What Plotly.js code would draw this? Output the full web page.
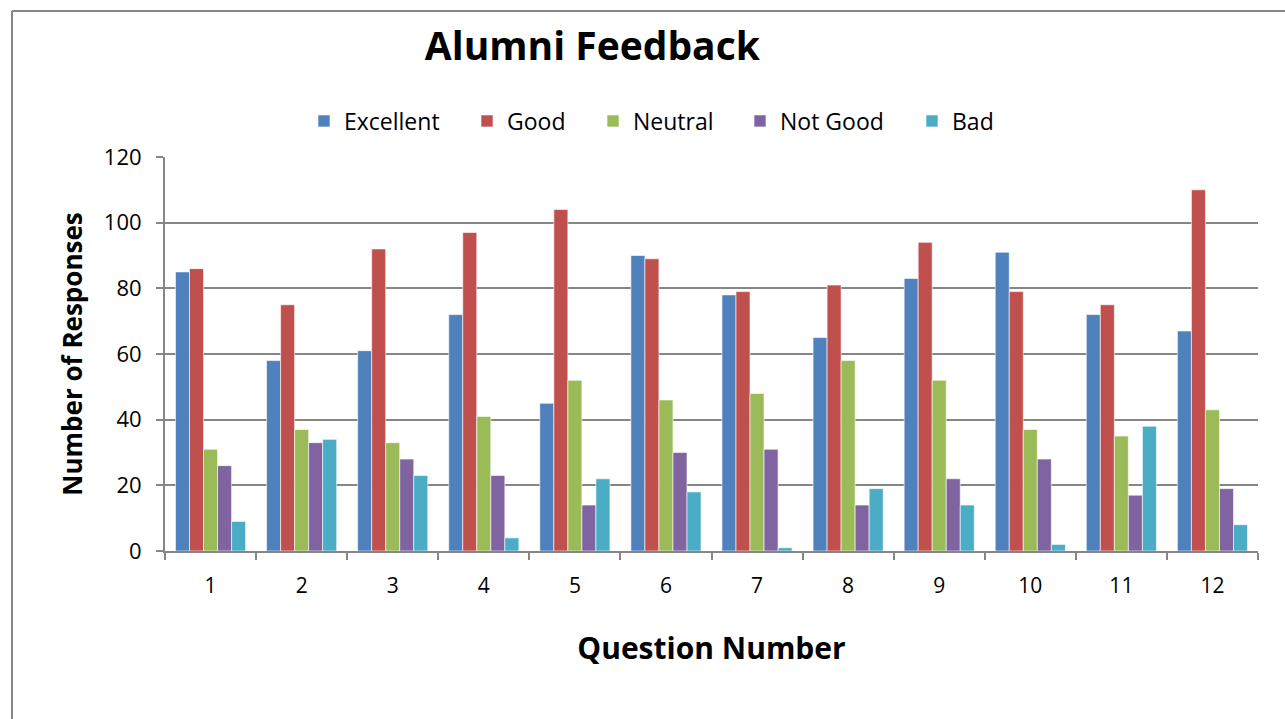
<!DOCTYPE html>
<html>
<head>
<meta charset="utf-8">
<script src="https://cdn.plot.ly/plotly-3.0.1.min.js"></script>
<style>
html,body{margin:0;padding:0;background:#fff;}
#chart{width:1285px;height:719px;}
</style>
</head>
<body>
<div id="chart"></div>
<script>
var questions = ["1","2","3","4","5","6","7","8","9","10","11","12"];
var excellent = [85, 58, 61, 72, 45, 90, 78, 65, 83, 91, 72, 67];
var good      = [86, 75, 92, 97, 104, 89, 79, 81, 94, 79, 75, 110];
var neutral   = [31, 37, 33, 41, 52, 46, 48, 58, 52, 37, 35, 43];
var notGood   = [26, 33, 28, 23, 14, 30, 31, 14, 22, 28, 17, 19];
var bad       = [9, 34, 23, 4, 22, 18, 1, 19, 14, 2, 38, 8];

var seriesNames = ["Excellent", "Good", "Neutral", "Not Good", "Bad"];
var seriesValues = [excellent, good, neutral, notGood, bad];
var colors = ["#4F81BD", "#C0504D", "#9BBB59", "#8064A2", "#4BACC6"];
var legendIds = ["legend", "legend2", "legend3", "legend4", "legend5"];
var legendTextX = [344, 507, 633, 780, 952];

var traces = seriesNames.map(function(n, i){
  return {
    type: "bar",
    name: n,
    x: questions,
    y: seriesValues[i],
    legend: legendIds[i],
    marker: {color: colors[i], line: {color: "rgba(255,255,255,0.6)", width: 1}}
  };
});

var font = "Open Sans, Liberation Sans, sans-serif";
var layout = {
  width: 1285, height: 719,
  paper_bgcolor: "#fff", plot_bgcolor: "#fff",
  margin: {l: 165, r: 27, t: 157, b: 168},
  barmode: "group",
  bargap: 0.23,
  bargroupgap: 0,
  font: {family: font, color: "#000"},
  title: {
    text: "<b>Alumni Feedback</b>",
    font: {family: font, size: 39, color: "#000"},
    xref: "container", yref: "container",
    x: 0.461, xanchor: "center",
    y: 1 - 46/719, yanchor: "middle"
  },
  showlegend: true,
  xaxis: {
    type: "category",
    showgrid: false,
    showline: true, linecolor: "#868686", linewidth: 2,
    ticks: "outside", ticklen: 7, tickcolor: "#868686", tickwidth: 2,
    tickson: "boundaries",
    ticklabelstandoff: 15,
    tickfont: {family: font, size: 21, color: "#000"},
    title: {text: "<b>Question Number</b>", font: {family: font, size: 30, color: "#000"}, standoff: 40}
  },
  yaxis: {
    range: [0, 120],
    dtick: 20,
    showgrid: true, gridcolor: "#868686", gridwidth: 2,
    showline: true, linecolor: "#868686", linewidth: 2,
    ticks: "outside", ticklen: 7, tickcolor: "#868686", tickwidth: 2,
    zeroline: false,
    ticklabelstandoff: 10,
    tickfont: {family: font, size: 22, color: "#000"},
    title: {text: "<b>Number of Responses</b>", font: {family: font, size: 26, color: "#000"}, standoff: 14}
  },
  shapes: [
    {type: "line", xref: "paper", yref: "paper", x0: -153/1093, x1: 1120/1093, y0: 1 + (157-11)/394, y1: 1 + (157-11)/394, line: {color: "#868686", width: 2}},
    {type: "line", xref: "paper", yref: "paper", x0: -153/1093, x1: -153/1093, y0: 1 + (157-11)/394, y1: -168/394 - 0.01, line: {color: "#868686", width: 2}}
  ]
};

legendIds.forEach(function(id, i){
  layout[id] = {
    orientation: "h",
    xref: "container", yref: "container",
    x: (legendTextX[i] - 40) / 1285, xanchor: "left",
    y: 1 - 121/719, yanchor: "middle",
    font: {family: font, size: 23, color: "#000"},
    bgcolor: "rgba(0,0,0,0)"
  };
});

Plotly.newPlot("chart", traces, layout, {displayModeBar: false, staticPlot: true});
</script>
</body>
</html>
